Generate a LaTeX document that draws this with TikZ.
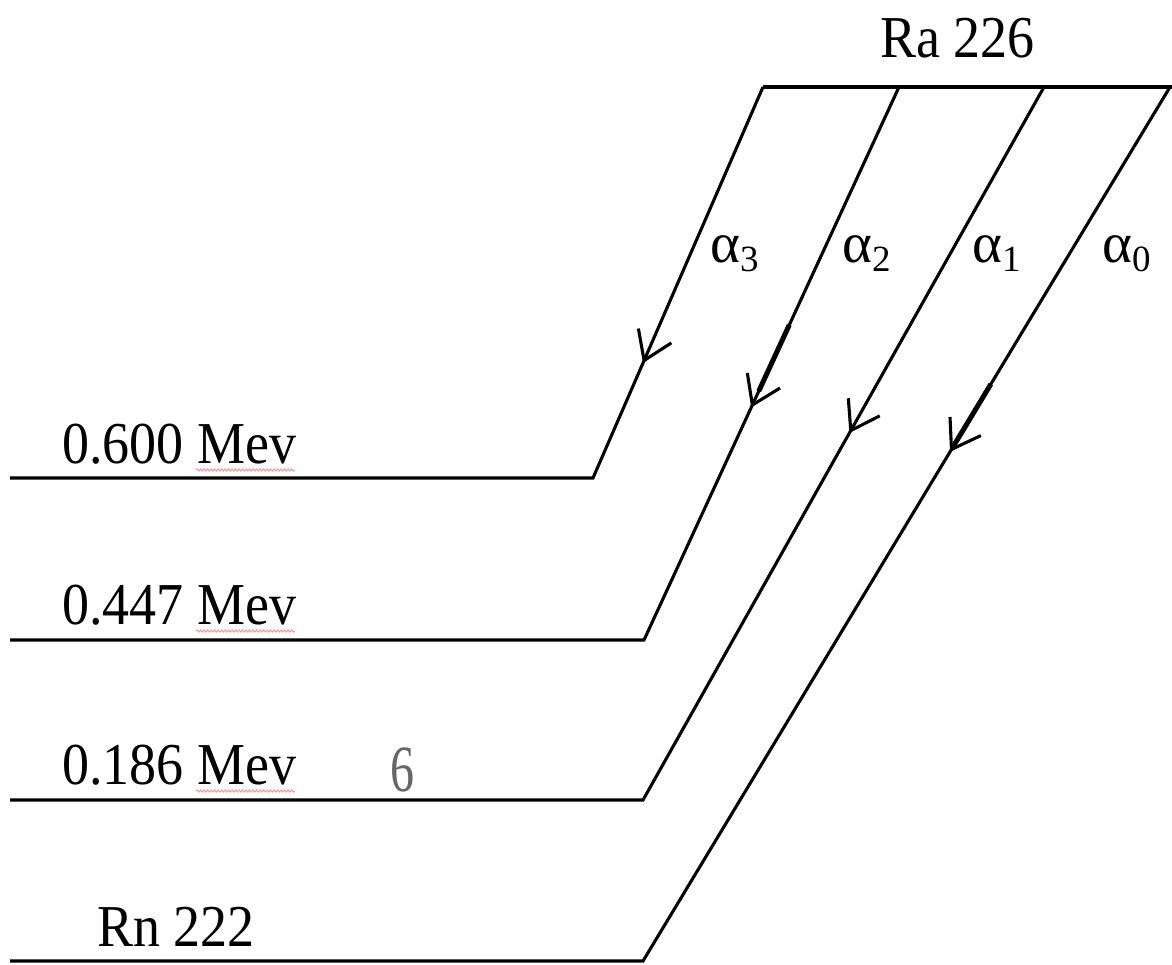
\documentclass[tikz,border=0pt]{standalone}
\usepackage{fontspec}
\setmainfont{Liberation Serif}
\usetikzlibrary{arrows.meta,decorations.markings,decorations.pathmorphing}
\newcommand\tallt[1]{\scalebox{1}[1.1]{#1}}
\begin{document}
\begin{tikzpicture}[x=1pt,y=-1pt,
  level/.style={line width=3.1pt,line join=miter},
  lbl/.style={inner sep=0pt,anchor=base west,font=\fontsize{54}{60}\selectfont},
  alab/.style={inner sep=0pt,anchor=base west,font=\fontsize{57}{60}\selectfont},
  tipA/.style={postaction={decorate},decoration={markings,
     mark=at position #1 with {\arrow{Straight Barb[length=27pt,width=36pt,line width=3.1pt]}}}},
  squig/.style={draw=red!45,line width=0.9pt,decorate,decoration={snake,amplitude=1.1pt,segment length=3.5pt}},
  thick2/.style={line width=5pt}]
\useasboundingbox (0,0) rectangle (1172,964);
% coordinates
\coordinate (topL) at (763,87);
\coordinate (topR) at (1172,87);
\coordinate (t2) at (899,87);
\coordinate (t1) at (1044,87);
\coordinate (t0) at (1170,87);
\coordinate (c3) at (593,478);
\coordinate (c2) at (644,640);
\coordinate (c1) at (643,800);
\coordinate (c0) at (643,961);
\coordinate (e3) at (10,478);
\coordinate (e2) at (10,640);
\coordinate (e1) at (10,800);
\coordinate (e0) at (10,961);
% top level
\draw[level] (topL) -- (topR);
% transitions and levels
\draw[level,tipA=301pt] (topL) -- (c3) -- (e3);
\draw[level,tipA=353pt] (t2) -- (c2) -- (e2);
\draw[level,tipA=397pt] (t1) -- (c1) -- (e1);
\draw[level,tipA=426pt] (t0) -- (c0) -- (e0);
% thicker bits above arrows
\path (t2) -- (c2) coordinate[pos=0.43] (k2a) coordinate[pos=0.55] (k2b);
\path (t0) -- (c0) coordinate[pos=0.34] (k0a) coordinate[pos=0.41] (k0b);
\draw[thick2] (k2a) -- (k2b);
\draw[thick2] (k0a) -- (k0b);
% labels
\node[lbl] (ra) at (880,57) {\tallt{Ra 226}};
\node[lbl] (l600) at (62,463) {\tallt{0.600 Mev}};
\node[lbl] (l447) at (62,624) {\tallt{0.447 Mev}};
\node[lbl] (l186) at (62,784) {\tallt{0.186 Mev}};
\node[lbl] (rn) at (97,946) {\tallt{Rn 222}};
\node[inner sep=0pt,anchor=base west,font=\fontsize{60}{64}\selectfont,text=black!60] (six) at (390,791) {\scalebox{0.8}[1.1]{6}};
% spell-check squiggles
\draw[squig] (196,470) -- (295,470);
\draw[squig] (196,631) -- (295,631);
\draw[squig] (196,791) -- (295,791);
% alpha labels
\node[alab] (a3) at (710,262) {α\raisebox{-9pt}{\fontsize{37}{40}\selectfont 3}};
\node[alab] (a2) at (842,262) {α\raisebox{-9pt}{\fontsize{37}{40}\selectfont 2}};
\node[alab] (a1) at (972,262) {α\raisebox{-9pt}{\fontsize{37}{40}\selectfont 1}};
\node[alab] (a0) at (1102,262) {α\raisebox{-9pt}{\fontsize{37}{40}\selectfont 0}};
\end{tikzpicture}
\end{document}
